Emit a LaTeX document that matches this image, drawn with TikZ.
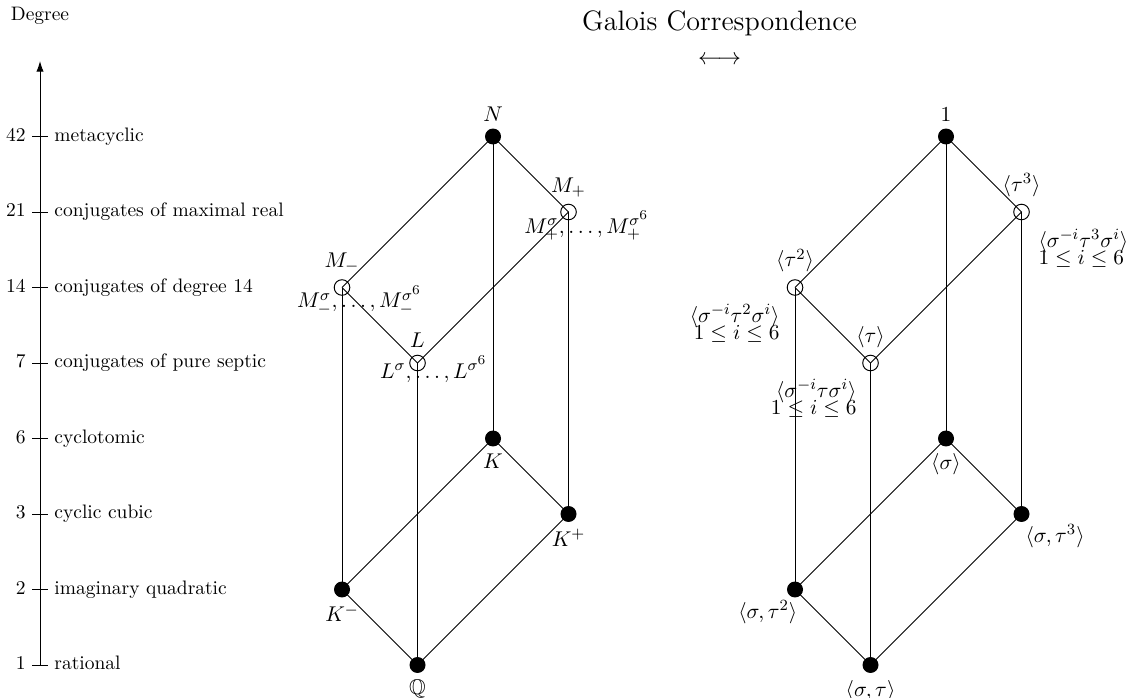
\documentclass[tikz,border=0pt]{standalone}
\usepackage{amssymb}
\DeclareMathSizes{10}{10.95}{8}{7}
\usetikzlibrary{arrows.meta}
\begin{document}
\begin{tikzpicture}[x=1.361cm,y=1.361cm,
  fdot/.style={circle,fill=black,inner sep=0pt,minimum size=8.2pt},
  odot/.style={circle,draw=black,line width=0.5pt,fill=none,inner sep=0pt,minimum size=8pt},
  edge/.style={line width=0.5pt},
  axlab/.style={text height=6.94pt,text depth=1.94pt},
  lab/.style={inner sep=0pt},
  blk/.style={inner sep=0pt},
  ]
\useasboundingbox (-0.530,-0.437) rectangle (14.543,8.808);

% axis
\node (deg) at (0,8.60) {Degree};
\coordinate (abot) at (0,0);
\coordinate (atop) at (0,8);
\draw[edge,-{Latex[length=5.5pt,width=3.8pt]}] (abot) -- (atop);
\foreach \k/\d/\t in {0/1/rational,1/2/imaginary quadratic,2/3/cyclic cubic,3/6/cyclotomic,4/7/conjugates of pure septic,5/14/conjugates of degree 14,6/21/conjugates of maximal real,7/42/metacyclic}{
  \draw[edge] (-0.1,\k) -- (0.1,\k);
  \node[axlab,anchor=east] (dn\k) at (-0.1,\k) {\d};
  \node[axlab,anchor=west] (dt\k) at (0.1,\k) {\t};
}

% title
\node (title) at (9,8.50) {\Large Galois Correspondence};
\node (corr) at (9,8.01) {\large$\longleftrightarrow$};

% left lattice (fields)
\node[fdot,label={above:$N$}] (N) at (6,7) {};
\node[odot,label={above:$M_+$}] (Mp) at (7,6) {};
\node[odot,label={above:$M_-$}] (Mm) at (4,5) {};
\node[odot,label={above:$L$}] (L) at (5,4) {};
\node[fdot,label={below:$K$}] (K) at (6,3) {};
\node[fdot,label={below:$K^+$}] (Kp) at (7,2) {};
\node[fdot,label={below:$K^-$}] (Km) at (4,1) {};
\node[fdot,label={below:$\mathbb{Q}$}] (Q) at (5,0) {};

\node[lab,anchor=base west] (Mpc) at (6.41,5.72) {$M_+^\sigma,\ldots,M_+^{\sigma^6}$};
\node[lab,anchor=base west] (Mmc) at (3.40,4.73) {$M_-^\sigma,\ldots,M_-^{\sigma^6}$};
\node[lab,anchor=base west] (Lc) at (4.50,3.80) {$L^\sigma,\ldots,L^{\sigma^6}$};

\foreach \a/\b in {N/Mp,N/Mm,N/K,Mp/L,Mm/L,Mm/Km,L/Q,Mp/Kp,K/Km,K/Kp,Km/Q,Kp/Q}
  \draw[edge] (\a.center) -- (\b.center);

% right lattice (groups)
\node[fdot,label={above:$1$}] (G1) at (12,7) {};
\node[odot,label={above:$\langle\tau^3\rangle$}] (T3) at (13,6) {};
\node[odot,label={above:$\langle\tau^2\rangle$}] (T2) at (10,5) {};
\node[odot,label={above:$\langle\tau\rangle$}] (T) at (11,4) {};
\node[fdot,label={below:$\langle\sigma\rangle$}] (S) at (12,3) {};
\node[fdot] (ST3) at (13,2) {};
\node[fdot] (ST2) at (10,1) {};
\node[fdot,label={below:$\langle\sigma,\tau\rangle$}] (ST) at (11,0) {};

\node[blk,anchor=north west,align=left] (T3c) at (13.22,5.78) {$\langle\sigma^{-i}\tau^3\sigma^i\rangle$\\[-3.3pt]$1\le i\le 6$};
\node[blk,anchor=north east,align=right] (T2c) at (9.80,4.78) {$\langle\sigma^{-i}\tau^2\sigma^i\rangle$\\[-3.3pt]$1\le i\le 6$};
\node[blk,anchor=north east,align=right] (Tc) at (10.82,3.79) {$\langle\sigma^{-i}\tau\sigma^i\rangle$\\[-3.3pt]$1\le i\le 6$};
\node[lab,anchor=base west] (ST3c) at (13.05,1.62) {$\langle\sigma,\tau^3\rangle$};
\node[lab,anchor=base west] (ST2c) at (9.245,0.62) {$\langle\sigma,\tau^2\rangle$};

\foreach \a/\b in {G1/T3,G1/T2,G1/S,T3/T,T2/T,T2/ST2,T/ST,T3/ST3,S/ST2,S/ST3,ST2/ST,ST3/ST}
  \draw[edge] (\a.center) -- (\b.center);
\end{tikzpicture}
\end{document}
